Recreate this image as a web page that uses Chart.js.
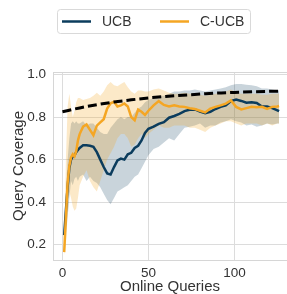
<!DOCTYPE html>
<html>
<head>
<meta charset="utf-8">
<script src="https://cdn.jsdelivr.net/npm/chart.js@4"></script>
<style>
  html, body { margin: 0; padding: 0; background: #fff; overflow: hidden; }
  canvas { display: block; }
</style>
</head>
<body>
<canvas id="grafica" width="287" height="294"></canvas>
<script>
// Datos
const queries = [1, 2, 3, 4, 5, 6, 7, 8, 9, 10, 12, 14, 16, 18, 20, 22, 24, 26, 28, 30,
  32, 34, 36, 38, 40, 42, 44, 46, 48, 50, 53, 56, 59, 62, 65, 68, 71, 74, 77, 80,
  83, 86, 89, 92, 95, 98, 101, 104, 107, 110, 113, 116, 119, 122, 125, 126];

const ucbMean = [.245, .36, .47, .56, .6, .615, .62, .635, .645, .655, .667, .667, .665, .66, .635, .6, .565, .535, .53, .565,
  .596, .605, .6, .625, .632, .655, .665, .69, .725, .745, .755, .768, .776, .797, .805, .815, .828, .834, .836, .826,
  .818, .825, .838, .848, .855, .875, .882, .876, .868, .87, .866, .85, .85, .842, .832, .828];
const ucbUpper = [.3, .45, .6, .7, .77, .78, .77, .78, .77, .77, .78, .76, .77, .77, .75, .73, .72, .72, .75, .77,
  .79, .8, .79, .8, .8, .82, .84, .85, .87, .88, .89, .9, .9, .91, .92, .92, .925, .925, .93, .925,
  .92, .925, .93, .935, .94, .95, .955, .955, .952, .95, .945, .935, .935, .93, .925, .925];
const ucbLower = [.2, .25, .33, .42, .5, .48, .51, .52, .5, .52, .53, .5, .52, .5, .49, .47, .44, .41, .39, .42,
  .45, .46, .47, .48, .5, .52, .53, .56, .59, .62, .65, .66, .68, .7, .69, .72, .75, .755, .76, .77,
  .75, .76, .76, .775, .78, .79, .78, .775, .76, .765, .755, .76, .77, .765, .77, .77];

const cucbMean = [.165, .33, .49, .57, .61, .625, .615, .64, .69, .72, .755, .765, .74, .715, .76, .775, .79, .84, .865, .872,
  .85, .855, .864, .85, .8, .785, .835, .825, .81, .83, .855, .875, .857, .85, .855, .85, .848, .842, .838, .83,
  .822, .84, .848, .855, .863, .878, .848, .836, .842, .848, .846, .848, .838, .848, .85, .852];
const cucbUpper = [.18, .6, .85, .91, .85, .8, .83, .87, .89, .89, .88, .885, .89, .9, .915, .9, .92, .95, .965, .95,
  .945, .955, .965, .94, .92, .91, .925, .925, .92, .92, .93, .935, .925, .915, .91, .91, .915, .91, .91, .905,
  .9, .905, .91, .915, .92, .93, .915, .91, .91, .91, .91, .905, .905, .91, .91, .91];
const cucbLower = [.15, .2, .34, .45, .42, .38, .36, .37, .42, .48, .52, .55, .5, .47, .45, .5, .55, .6, .63, .66,
  .7, .72, .72, .7, .66, .67, .7, .72, .7, .72, .74, .76, .75, .75, .76, .76, .76, .75, .75, .74,
  .73, .75, .76, .77, .78, .78, .77, .76, .77, .77, .77, .76, .77, .76, .77, .77];

// Linea de referencia punteada
const refX = [0, 10, 20, 30, 40, 50, 60, 70, 80, 90, 100, 110, 120, 126];
const refY = [.825, .843, .858, .871, .881, .89, .897, .903, .908, .913, .916, .919, .921, .922];

const xTicks = [0, 50, 100];
const yTicks = [0.2, 0.4, 0.6, 0.8, 1.0];

const seriesNames = ['UCB', 'C-UCB'];
const colorUCB = '#0b3c5d';
const colorCUCB = '#f5a623';

const puntos = (xs, ys) => xs.map((x, i) => ({ x: x, y: ys[i] }));

// Marco del area y leyenda con borde
const marcoPlugin = {
  id: 'marco',
  afterDatasetsDraw(chart) {
    const { ctx, chartArea: a } = chart;
    ctx.save();
    ctx.strokeStyle = '#d6d6d6';
    ctx.lineWidth = 1;
    ctx.strokeRect(a.left + 0.5, a.top + 0.5, a.right - a.left, a.bottom - a.top);
    ctx.restore();
  },
  afterDraw(chart) {
    const ctx = chart.ctx;
    ctx.save();
    // caja de la leyenda
    const bx = 57.5, by = 9.5, bw = 193, bh = 24, r = 3;
    ctx.beginPath();
    ctx.moveTo(bx + r, by);
    ctx.arcTo(bx + bw, by, bx + bw, by + bh, r);
    ctx.arcTo(bx + bw, by + bh, bx, by + bh, r);
    ctx.arcTo(bx, by + bh, bx, by, r);
    ctx.arcTo(bx, by, bx + bw, by, r);
    ctx.closePath();
    ctx.fillStyle = '#fff';
    ctx.fill();
    ctx.strokeStyle = '#d9d9d9';
    ctx.lineWidth = 1;
    ctx.stroke();

    const items = [
      { name: seriesNames[0], color: colorUCB, x: 62 },
      { name: seriesNames[1], color: colorCUCB, x: 160 }
    ];
    ctx.font = '14px "Liberation Sans", Arial, sans-serif';
    ctx.textBaseline = 'middle';
    items.forEach(it => {
      ctx.beginPath();
      ctx.moveTo(it.x, 21.5);
      ctx.lineTo(it.x + 29, 21.5);
      ctx.strokeStyle = it.color;
      ctx.lineWidth = 2.5;
      ctx.stroke();
      ctx.fillStyle = '#333';
      ctx.fillText(it.name, it.x + 40, 22);
    });
    ctx.restore();
  }
};

const banda = (label, ys, color, fillTo, order) => ({
  label: label,
  data: puntos(queries, ys),
  borderWidth: 0,
  pointRadius: 0,
  backgroundColor: color,
  fill: fillTo,
  order: order
});

new Chart(document.getElementById('grafica'), {
  type: 'line',
  data: {
    datasets: [
      {
        label: 'ref',
        data: puntos(refX, refY),
        borderColor: '#000',
        borderWidth: 3,
        borderDash: [9, 4],
        pointRadius: 0,
        fill: false,
        cubicInterpolationMode: 'monotone',
        order: 0
      },
      {
        label: seriesNames[1],
        data: puntos(queries, cucbMean),
        borderColor: colorCUCB,
        borderWidth: 2.5,
        pointRadius: 0,
        fill: false,
        order: 1
      },
      {
        label: seriesNames[0],
        data: puntos(queries, ucbMean),
        borderColor: colorUCB,
        borderWidth: 2.5,
        pointRadius: 0,
        fill: false,
        order: 2
      },
      banda('ucbUpper', ucbUpper, 'rgba(11,60,93,0.22)', '+1', 5),
      banda('ucbLower', ucbLower, 'rgba(0,0,0,0)', false, 6),
      banda('cucbUpper', cucbUpper, 'rgba(245,166,35,0.25)', '+1', 3),
      banda('cucbLower', cucbLower, 'rgba(0,0,0,0)', false, 4)
    ]
  },
  options: {
    responsive: false,
    animation: false,
    events: [],
    layout: { padding: { top: 72, left: 0, right: 0, bottom: 0 } },
    plugins: {
      legend: { display: false },
      tooltip: { enabled: false }
    },
    scales: {
      x: {
        type: 'linear',
        min: -5.5,
        max: 130.6,
        afterBuildTicks: s => { s.ticks = xTicks.map(v => ({ value: v })); },
        afterFit: s => { s.height = 34; },
        grid: { color: '#dcdcdc', drawTicks: false },
        border: { display: false },
        ticks: {
          padding: 5,
          color: '#333',
          font: { family: '"Liberation Sans", Arial, sans-serif', size: 13.5 }
        },
        title: {
          display: true,
          text: 'Online Queries',
          color: '#333',
          padding: { top: 0, bottom: 0 },
          font: { family: '"Liberation Sans", Arial, sans-serif', size: 15, lineHeight: 1 }
        }
      },
      y: {
        min: 0.128,
        max: 1.012,
        afterBuildTicks: s => { s.ticks = yTicks.map(v => ({ value: v })); },
        afterFit: s => { s.width = 53; },
        grid: { color: '#dcdcdc', drawTicks: false },
        border: { display: false },
        ticks: {
          padding: 7,
          color: '#333',
          font: { family: '"Liberation Sans", Arial, sans-serif', size: 13.5 },
          callback: v => v.toFixed(1)
        },
        title: {
          display: true,
          text: 'Query Coverage',
          color: '#333',
          padding: { top: 11, bottom: 0 },
          font: { family: '"Liberation Sans", Arial, sans-serif', size: 15, lineHeight: 1 }
        }
      }
    }
  },
  plugins: [marcoPlugin]
});
</script>
</body>
</html>
